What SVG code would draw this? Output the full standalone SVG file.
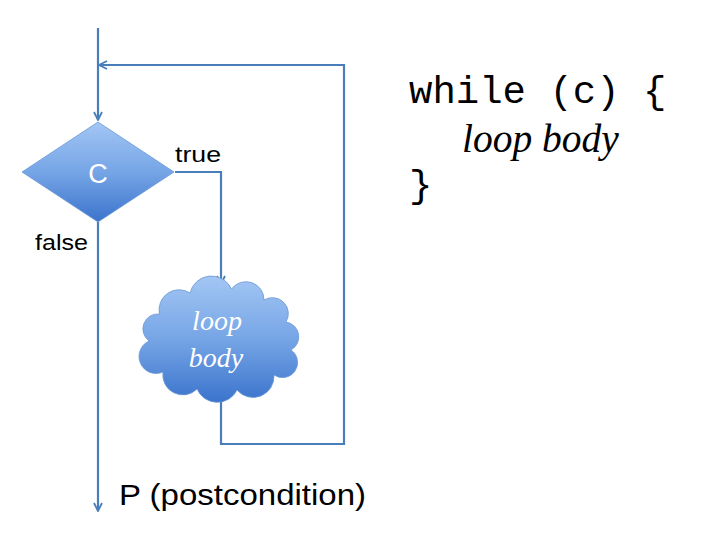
<svg xmlns="http://www.w3.org/2000/svg" width="720" height="540" viewBox="0 0 720 540">
  <defs>
    <linearGradient id="fillBlue" x1="0" y1="0" x2="0" y2="1">
      <stop offset="0" stop-color="#a3c6f4"/>
      <stop offset="0.5" stop-color="#76a5e6"/>
      <stop offset="1" stop-color="#3b74cc"/>
    </linearGradient>
    <marker id="arrow" viewBox="0 0 10 10" refX="9" refY="5" markerWidth="10" markerHeight="10" markerUnits="userSpaceOnUse" orient="auto">
      <path d="M1,1 L9,5 L1,9" fill="none" stroke="#4a7ebb" stroke-width="1.8"/>
    </marker>
    <style>
      .conn { fill: none; stroke: #4a7ebb; stroke-width: 2.2; }
      .lbl { font-family: "Liberation Sans", "Open Sans", sans-serif; fill: #000; }
      .code { font-family: "Liberation Mono", "DejaVu Sans Mono", monospace; fill: #000; font-size: 39px; }
      .ital { font-family: "Liberation Serif", "DejaVu Serif", serif; font-style: italic; }
      .shape { fill: url(#fillBlue); stroke: #6b98d6; stroke-width: 0.8; }
    </style>
  </defs>
  <rect width="720" height="540" fill="#ffffff"/>

  <g id="connectors">
    <path class="conn" d="M98,28 L98,120" marker-end="url(#arrow)"/>
    <path class="conn" d="M221,400 L221,444 L344,444 L344,65 L99,65" marker-end="url(#arrow)"/>
    <path class="conn" d="M175,172 L221,172 L221,284" marker-end="url(#arrow)"/>
    <path class="conn" d="M98,222 L98,511" marker-end="url(#arrow)"/>
  </g>

  <g id="decision">
    <polygon class="shape" points="98,122 174,172 98,222 22,172"/>
    <text x="98" y="183" text-anchor="middle" font-family="Liberation Sans, sans-serif" font-size="27" fill="#ffffff">C</text>
  </g>

  <g id="loopbody">
    <path class="shape" d="M149,341 A15,15 0 0 1 159.5,314 A20,20 0 0 1 190,293 A22,22 0 0 1 231.5,289 A18,18 0 0 1 264,300 A16,16 0 0 1 286,322 A15,15 0 0 1 291,350 A15,15 0 0 1 274,375 A21,21 0 0 1 237,390 A22,22 0 0 1 197,389 A20,20 0 0 1 163,372 A17,17 0 0 1 149,341 Z"/>
    <text class="ital" x="217" y="330" text-anchor="middle" font-size="28" fill="#ffffff">loop</text>
    <text class="ital" x="216" y="367" text-anchor="middle" font-size="28" fill="#ffffff">body</text>
  </g>

  <g id="labels">
    <text class="lbl" x="175" y="162" font-size="22" textLength="46" lengthAdjust="spacingAndGlyphs">true</text>
    <text class="lbl" x="35" y="250" font-size="22" textLength="53" lengthAdjust="spacingAndGlyphs">false</text>
    <text class="lbl" x="119" y="505" font-size="30" textLength="247" lengthAdjust="spacingAndGlyphs">P (postcondition)</text>
  </g>

  <g id="code">
    <text class="code" x="409" y="103">while (c) {</text>
    <text class="ital" x="462" y="152" font-size="39.5">loop body</text>
    <text class="code" x="409" y="197">}</text>
  </g>
</svg>
